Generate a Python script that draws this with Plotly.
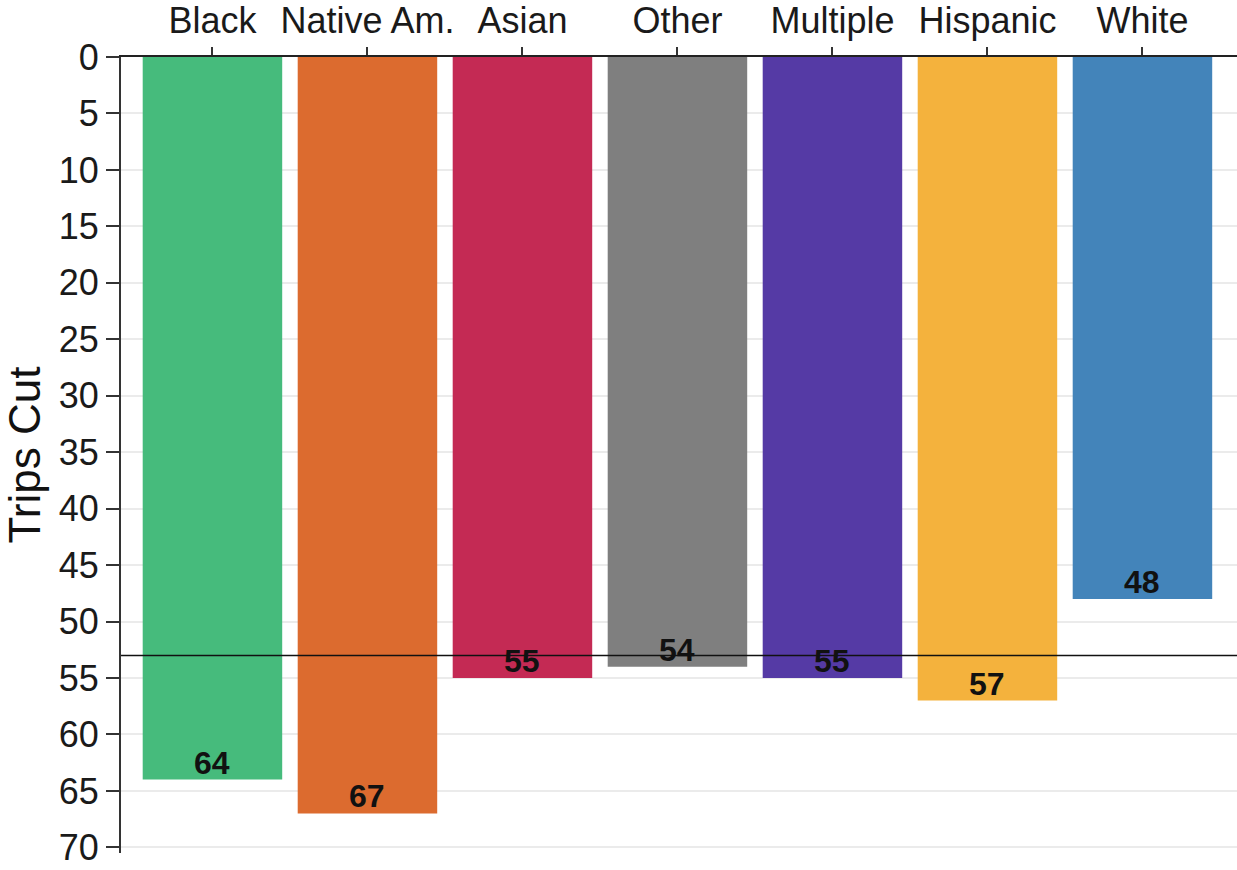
import plotly.graph_objects as go

categories = ["Black", "Native Am.", "Asian", "Other", "Multiple", "Hispanic", "White"]
trips_cut = [64, 67, 55, 54, 55, 57, 48]
bar_colors = ["#46BB7C", "#DC6B2F", "#C42A54", "#7F7F7F", "#553AA5", "#F4B23D", "#4384BA"]
reference_value = 53
y_ticks = list(range(0, 75, 5))

FONT = "Liberation Sans, Arial, sans-serif"

fig = go.Figure()
fig.add_trace(go.Bar(
    x=categories, y=trips_cut, marker_color=bar_colors, marker_line_width=0,
    width=0.9, showlegend=False, hoverinfo="x+y",
))

for c, v in zip(categories, trips_cut):
    fig.add_annotation(x=c, y=v, text=f"<b>{v}</b>", showarrow=False,
                       yanchor="bottom", yshift=-3,
                       font=dict(family=FONT, size=32, color="#111111"))

fig.add_shape(type="line", xref="paper", x0=0, x1=1, yref="y",
              y0=reference_value, y1=reference_value,
              line=dict(color="#111111", width=1.5))

fig.update_layout(
    width=1237, height=870,
    margin=dict(l=121, r=0, t=55, b=17),
    plot_bgcolor="white", paper_bgcolor="white",
    font=dict(family=FONT, size=36, color="#1a1a1a"),
    bargap=0.1,
    xaxis=dict(
        side="top", range=[-0.59, 6.61], showline=True, linecolor="#222222", linewidth=1.5,
        ticks="outside", ticklen=8, tickwidth=1.5, tickcolor="#333333", tickangle=0,
        showgrid=False, tickfont=dict(size=36, color="#1a1a1a"), fixedrange=True,
    ),
    yaxis=dict(
        range=[70.5, 0], tickvals=y_ticks, showline=True, linecolor="#333333", linewidth=2,
        ticks="outside", ticklen=13, tickwidth=2, tickcolor="#333333",
        showgrid=True, gridcolor="#ebebeb", gridwidth=1.5, zeroline=False,
        tickfont=dict(size=36, color="#1a1a1a"),
        title=dict(text="Trips Cut", font=dict(size=44, color="#111111"), standoff=4),
    ),
)

fig.write_html("out.html")
